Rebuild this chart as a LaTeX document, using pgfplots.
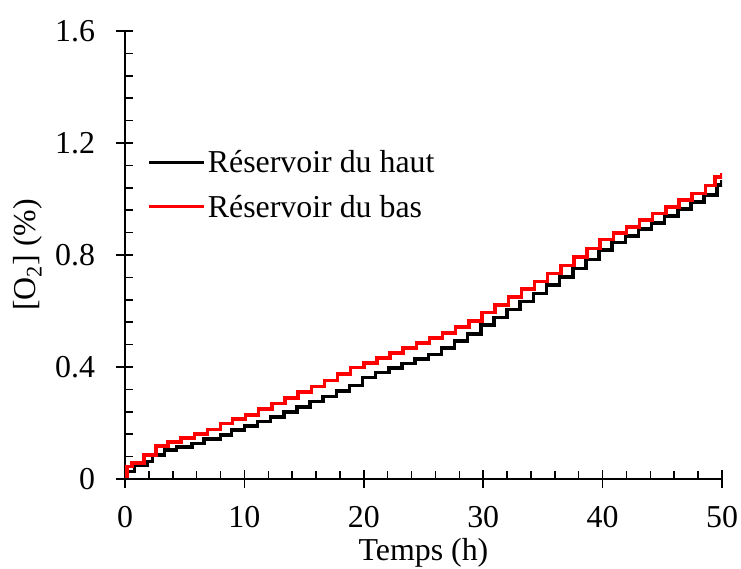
\documentclass[border=0pt]{standalone}
\usepackage{fontspec}
\setmainfont{Liberation Serif}
\usepackage{pgfplots}
\usepackage{pgfplotstable}
\pgfplotsset{compat=1.18}

% Oxygen concentration, upper tank
\pgfplotstableread{
t     o2
0     0.005
0.15  0.026
0.8   0.050
1.9   0.062
2.3   0.086
3.3   0.104
4.3   0.115
5.6   0.127
6.6   0.142
8.0   0.157
8.9   0.175
10.0  0.190
11.1  0.205
12.2  0.222
13.3  0.240
14.4  0.258
15.5  0.276
16.6  0.294
17.7  0.314
18.8  0.334
19.9  0.362
21.0  0.380
22.1  0.396
23.2  0.412
24.3  0.428
25.4  0.445
26.5  0.468
27.6  0.492
28.7  0.518
29.8  0.550
30.9  0.577
32.0  0.605
33.1  0.634
34.2  0.663
35.3  0.692
36.4  0.722
37.5  0.752
38.6  0.784
39.7  0.818
40.8  0.845
41.9  0.868
43.0  0.892
44.1  0.915
45.2  0.940
46.3  0.964
47.4  0.990
48.5  1.015
49.6  1.050
50.0  1.068
}\haut

% Oxygen concentration, lower tank
\pgfplotstableread{
t     o2
0     0.010
0.15  0.045
0.6   0.057
1.6   0.086
2.6   0.118
3.6   0.133
4.7   0.146
5.8   0.160
6.9   0.176
8.0   0.198
9.0   0.214
10.1  0.228
11.2  0.250
12.3  0.270
13.4  0.290
14.5  0.310
15.6  0.330
16.7  0.352
17.8  0.375
18.9  0.398
20.0  0.415
21.1  0.432
22.2  0.450
23.3  0.468
24.4  0.486
25.5  0.504
26.6  0.522
27.7  0.542
28.8  0.565
29.9  0.595
31.0  0.622
32.1  0.650
33.2  0.678
34.3  0.706
35.4  0.734
36.5  0.762
37.6  0.792
38.7  0.824
39.8  0.855
40.9  0.878
42.0  0.900
43.1  0.925
44.2  0.948
45.3  0.972
46.4  0.996
47.5  1.020
48.6  1.048
49.4  1.078
50.0  1.093
}\bas

\begin{document}
\begin{tikzpicture}[font=\fontsize{32}{38}\selectfont]
\begin{axis}[
  name=ax,
  scale only axis,
  width=597bp, height=448bp,
  xmin=0, xmax=50, ymin=0, ymax=1.6,
  axis lines*=left,
  axis line style={line width=1.5bp},
  xtick={0,10,20,30,40,50},
  ytick={0,0.4,0.8,1.2,1.6},
  minor x tick num=4,
  minor y tick num=4,
  tick align=center,
  major tick length=17bp,
  minor tick length=8bp,
  every tick/.style={black, line width=1.5bp},
  minor x tick style={yshift=4bp},
  minor y tick style={xshift=4bp},
  /pgf/number format/assume math mode=true,
  yticklabel style={xshift=-18bp},
  xticklabel style={yshift=-15bp},
  xlabel={Temps (h)},
  ylabel={[O\textsubscript{2}] (\%)},
  xlabel style={at={(axis description cs:0.5,-0.165)}, anchor=center},
  ylabel style={at={(axis description cs:-0.163,0.5)}, anchor=center},
  legend cell align=left,
  legend style={draw=none, fill=none, at={(axis cs:1.9,1.182)}, anchor=north west,
    row sep=17bp, inner sep=0pt},
  legend image code/.code={\draw[#1, line width=3bp] (0bp,0bp) -- (55bp,0bp);},
]
\addplot[const plot, black, line width=3.5bp] table[x=t, y=o2] {\haut};
\addlegendentry{Réservoir du haut}
\addplot[const plot, red, line width=3.5bp] table[x=t, y=o2] {\bas};
\addlegendentry{Réservoir du bas}
\end{axis}
\pgfresetboundingbox
\path[use as bounding box] ([shift={(-125bp,-90bp)}]ax.south west) rectangle ++(741bp,569bp);
\end{tikzpicture}
\end{document}
